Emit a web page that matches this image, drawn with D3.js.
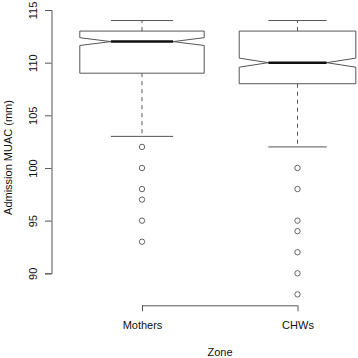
<!DOCTYPE html>
<html>
<head>
<meta charset="utf-8">
<script src="https://cdn.jsdelivr.net/npm/d3@7"></script>
<style>
  body { margin: 0; background: #ffffff; }
  text { font-family: "Liberation Sans", Arial, sans-serif; fill: #111; }
</style>
</head>
<body>
<div id="chart"></div>
<script>
// Notched boxplot of admission MUAC by zone

const zones = ["Mothers", "CHWs"];
const lowerWhisker = [103, 102];
const q1 = [109, 108];
const median = [112, 110];
const q3 = [113, 113];
const upperWhisker = [114, 114];
const notchLow = [111.63, 109.57];
const notchHigh = [112.37, 110.43];
const outliers = [
    [102, 100, 98, 97, 95, 93],
    [100, 98, 95, 94, 92, 90, 88]
];
const yTicks = [90, 95, 100, 105, 110, 115];

const width = 358, height = 358;
const boxHalf = [0.4, 0.375];   // half width of each box, in group units
const lineColor = "#555";

const svg = d3.select("#chart")
    .append("svg")
    .attr("width", width)
    .attr("height", height);

// scales
let x = d3.scaleLinear().domain([1, 2]).range([142, 297.5]);
let y = d3.scaleLinear().domain([90, 115]).range([273.3, 10]);
let plotBottom = y(86.96);

// y axis
let yAxis = svg.append("g")
    .attr("transform", "translate(51.5,0)")
    .call(d3.axisLeft(y).tickValues(yTicks).tickSize(6.5).tickPadding(0).tickFormat(d3.format("d")));
yAxis.select(".domain").attr("stroke", lineColor);
yAxis.selectAll(".tick line").attr("stroke", lineColor);
yAxis.selectAll(".tick text")
    .attr("transform", "translate(-14.5,0) rotate(-90)")
    .attr("x", 0).attr("dy", 0).attr("y", 0)
    .attr("text-anchor", "middle")
    .style("font-family", "Liberation Sans, Arial, sans-serif")
    .style("font-size", "11px")
    .attr("fill", "#111");

// y title
svg.append("text")
    .attr("transform", "translate(11.5,157.5) rotate(-90)")
    .attr("text-anchor", "middle")
    .style("font-size", "11px")
    .text("Admission MUAC (mm)");

// x axis
let xAxis = svg.append("g")
    .attr("transform", "translate(0," + plotBottom + ")")
    .call(d3.axisBottom(x).tickValues([1, 2]).tickSize(6).tickPadding(10)
        .tickFormat(d => zones[d - 1]));
xAxis.select(".domain").attr("stroke", lineColor).attr("d", "M" + x(1) + ",0.5H" + x(2));
xAxis.selectAll(".tick line").attr("stroke", lineColor);
xAxis.selectAll(".tick text")
    .style("font-family", "Liberation Sans, Arial, sans-serif")
    .style("font-size", "11px")
    .attr("fill", "#111");

// x title
svg.append("text")
    .attr("x", 220)
    .attr("y", 356)
    .attr("text-anchor", "middle")
    .style("font-size", "11px")
    .text("Zone");

// boxes
const groups = svg.selectAll(".box")
    .data(zones)
    .enter().append("g")
    .attr("class", "box");

groups.each(function(z, i) {
    const g = d3.select(this);
    const c = i + 1;
    const l = x(c - boxHalf[i]), r = x(c + boxHalf[i]);
    const hl = x(c - boxHalf[i] / 2), hr = x(c + boxHalf[i] / 2);
    const cx = x(c);

    // whiskers (dashed)
    g.append("line")
        .attr("x1", cx).attr("x2", cx)
        .attr("y1", y(q3[i])).attr("y2", y(upperWhisker[i]))
        .attr("stroke", lineColor).attr("stroke-dasharray", "4,4");
    g.append("line")
        .attr("x1", cx).attr("x2", cx)
        .attr("y1", y(q1[i])).attr("y2", y(lowerWhisker[i]))
        .attr("stroke", lineColor).attr("stroke-dasharray", "4,4");

    // staples
    [upperWhisker[i], lowerWhisker[i]].forEach(v => {
        g.append("line")
            .attr("x1", hl).attr("x2", hr)
            .attr("y1", y(v)).attr("y2", y(v))
            .attr("stroke", lineColor);
    });

    // notched box outline
    const pts = [
        [l, y(q3[i])], [r, y(q3[i])], [r, y(notchHigh[i])], [hr, y(median[i])],
        [r, y(notchLow[i])], [r, y(q1[i])], [l, y(q1[i])], [l, y(notchLow[i])],
        [hl, y(median[i])], [l, y(notchHigh[i])]
    ];
    g.append("path")
        .attr("d", d3.line()(pts) + "Z")
        .attr("fill", "#fff")
        .attr("stroke", lineColor)
        .attr("stroke-width", 1);

    // median
    g.append("line")
        .attr("x1", hl).attr("x2", hr)
        .attr("y1", y(median[i])).attr("y2", y(median[i]))
        .attr("stroke", "#111").attr("stroke-width", 2.5);

    // outliers
    g.selectAll("circle")
        .data(outliers[i])
        .enter().append("circle")
        .attr("cx", cx)
        .attr("cy", d => y(d))
        .attr("r", 2.7)
        .attr("fill", "none")
        .attr("stroke", lineColor)
        .attr("stroke-width", 0.9);
});
</script>
</body>
</html>
